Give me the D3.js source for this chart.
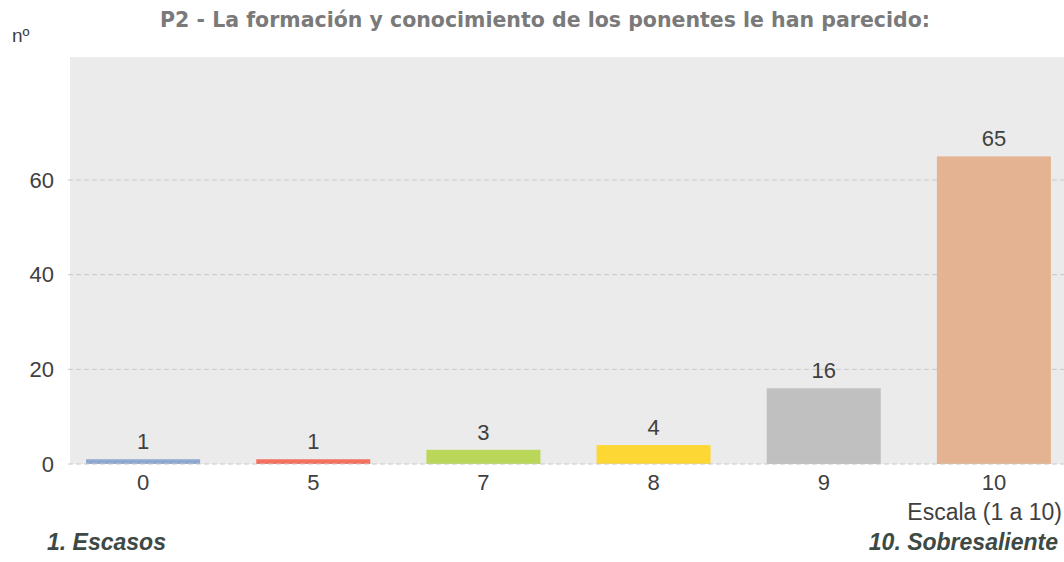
<!DOCTYPE html>
<html>
<head>
<meta charset="utf-8">
<script src="https://cdn.jsdelivr.net/npm/d3@7"></script>
<style>
	body { margin: 0; background: #fff; }
	svg { font-family: "Liberation Sans", Arial, sans-serif; }
</style>
</head>
<body>
<div id="chart"></div>
<script>
// Data
const categories = ['0', '5', '7', '8', '9', '10'];
const counts = [1, 1, 3, 4, 16, 65];
const barColors = ['#8fa9d0', '#f6705f', '#bbd75a', '#fdd835', '#c0c0c0', '#e4b492'];
const yTicks = [0, 20, 40, 60];
const titleText = 'P2 - La formación y conocimiento de los ponentes le han parecido:';
const yLabel = 'nº';
const xLabel = 'Escala (1 a 10)';
const lowLabel = '1. Escasos';
const highLabel = '10. Sobresaliente';

class Barchart {
	constructor(_config, _data) {
		this.config = {
			parentElement: _config.parentElement,
			containerWidth: 1064,
			containerHeight: 562,
			margin: {top: 57, right: 0, bottom: 98, left: 70}
		};
		this.data = _data;
		this.init();
	}

	init() {
		let vis = this;
		const m = vis.config.margin;
		vis.width = vis.config.containerWidth - m.left - m.right;
		vis.height = vis.config.containerHeight - m.top - m.bottom;

		vis.svg = d3.select(vis.config.parentElement).append('svg')
			.attr('width', vis.config.containerWidth)
			.attr('height', vis.config.containerHeight);

		// Scales (band runs a little past the plot edges like the original)
		vis.xScale = d3.scaleBand()
			.domain(vis.data.map(d => d.cat))
			.range([-12, vis.width + 15])
			.paddingInner(0.33)
			.paddingOuter(0.165);

		vis.yScale = d3.scaleLinear()
			.domain([0, 86])
			.range([vis.height, 0]);

		vis.chartArea = vis.svg.append('g')
			.attr('transform', `translate(${m.left},${m.top})`);

		// Plot background
		vis.chartArea.append('rect')
			.attr('width', vis.width)
			.attr('height', vis.height)
			.attr('fill', '#ebebeb');

		// Grid lines
		vis.chartArea.selectAll('.grid')
			.data(yTicks.filter(d => d > 0))
			.join('line')
			.attr('class', 'grid')
			.attr('x1', -2)
			.attr('x2', vis.width)
			.attr('y1', d => vis.yScale(d))
			.attr('y2', d => vis.yScale(d))
			.attr('stroke', '#c8c8c8')
			.attr('stroke-dasharray', '5,3');

		// Y axis labels
		const yAxis = d3.axisLeft(vis.yScale).tickValues(yTicks).tickSize(0).tickPadding(16);
		vis.chartArea.append('g')
			.attr('class', 'y-axis')
			.call(yAxis)
			.call(g => g.select('.domain').remove())
			.call(g => g.selectAll('text')
				.attr('font-size', 22)
				.attr('fill', '#404040')
				.attr('font-family', '"Liberation Sans", Arial, sans-serif'));

		// X axis labels
		const xAxis = d3.axisBottom(vis.xScale).tickSize(0).tickPadding(10);
		vis.chartArea.append('g')
			.attr('class', 'x-axis')
			.attr('transform', `translate(0,${vis.height})`)
			.call(xAxis)
			.call(g => g.select('.domain').remove())
			.call(g => g.selectAll('text')
				.attr('font-size', 22)
				.attr('fill', '#404040')
				.attr('font-family', '"Liberation Sans", Arial, sans-serif'));

		vis.render();
	}

	render() {
		let vis = this;

		vis.chartArea.selectAll('.bar')
			.data(vis.data, d => d.cat)
			.join('rect')
			.attr('class', 'bar')
			.attr('x', d => vis.xScale(d.cat))
			.attr('y', d => vis.yScale(d.count))
			.attr('width', vis.xScale.bandwidth())
			.attr('height', d => vis.height - vis.yScale(d.count))
			.attr('fill', d => d.color);

		// zero line sits over the bars
		vis.chartArea.append('line')
			.attr('x1', -2)
			.attr('x2', vis.width)
			.attr('y1', vis.yScale(0))
			.attr('y2', vis.yScale(0))
			.attr('stroke', '#c8c8c8')
			.attr('stroke-dasharray', '5,3');

		vis.chartArea.selectAll('.value')
			.data(vis.data)
			.join('text')
			.attr('class', 'value')
			.attr('x', d => vis.xScale(d.cat) + vis.xScale.bandwidth() / 2)
			.attr('y', d => vis.yScale(d.count) - 10)
			.attr('text-anchor', 'middle')
			.attr('font-size', 22)
			.attr('fill', '#404040')
			.text(d => d.count);

		// Titles and notes
		vis.svg.append('text')
			.attr('x', 545)
			.attr('y', 27)
			.attr('text-anchor', 'middle')
			.style('font-family', '"DejaVu Sans", Verdana, sans-serif')
			.attr('font-weight', 'bold')
			.attr('font-size', 20.5)
			.attr('fill', '#7a7a7a')
			.text(titleText);

		vis.svg.append('text')
			.attr('x', 12)
			.attr('y', 42)
			.attr('font-size', 19)
			.attr('fill', '#404040')
			.text(yLabel);

		vis.svg.append('text')
			.attr('x', 1062)
			.attr('y', 520)
			.attr('text-anchor', 'end')
			.attr('font-size', 23)
			.attr('fill', '#404040')
			.text(xLabel);

		vis.svg.append('text')
			.attr('x', 47)
			.attr('y', 550)
			.attr('font-size', 23)
			.attr('font-weight', 'bold')
			.attr('font-style', 'italic')
			.attr('fill', '#3d4944')
			.text(lowLabel);

		vis.svg.append('text')
			.attr('x', 1058)
			.attr('y', 550)
			.attr('text-anchor', 'end')
			.attr('font-size', 23)
			.attr('font-weight', 'bold')
			.attr('font-style', 'italic')
			.attr('fill', '#3d4944')
			.text(highLabel);
	}
}

const data = categories.map((c, i) => ({cat: c, count: counts[i], color: barColors[i]}));
new Barchart({parentElement: '#chart'}, data);
</script>
</body>
</html>
